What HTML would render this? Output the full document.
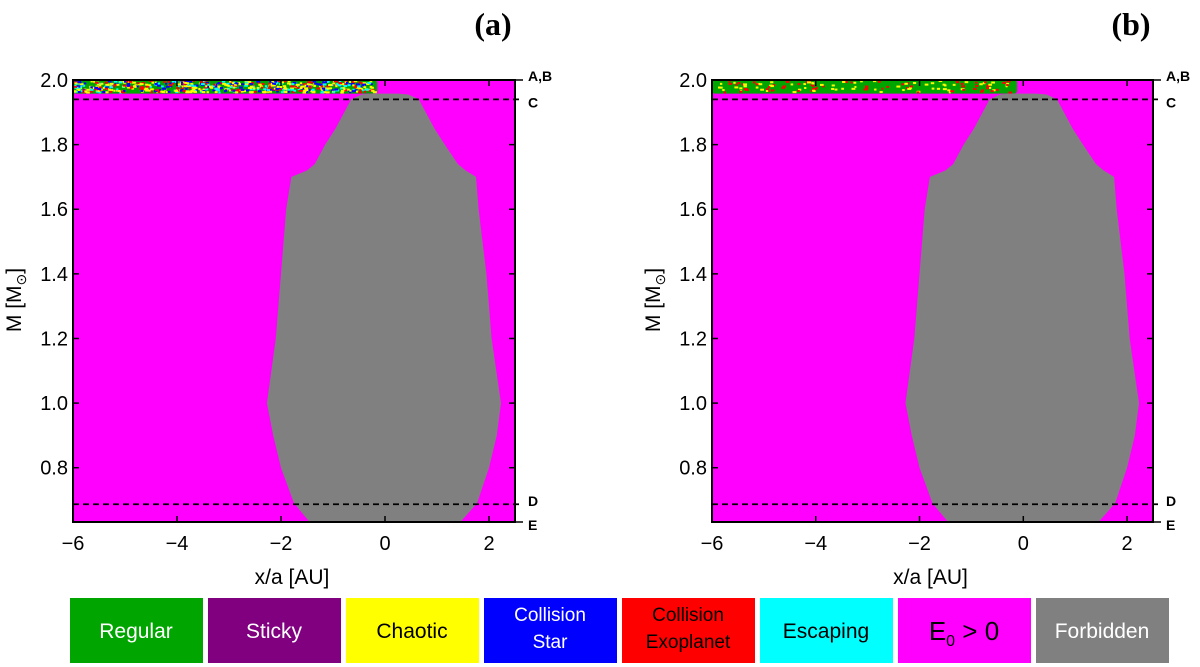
<!DOCTYPE html>
<html><head><meta charset="utf-8"><style>
body{margin:0;background:#fff;width:1200px;height:667px;overflow:hidden}
svg{display:block}
text{font-family:"Liberation Sans",sans-serif}
text.serif{font-family:"Liberation Serif",serif}
</style></head><body>
<svg id="fig" width="1200" height="667" xmlns="http://www.w3.org/2000/svg"></svg>
<script>
const xTicks=[-6,-4,-2,0,2];
const yTicks=[0.8,1.0,1.2,1.4,1.6,1.8,2.0];
const xDomain=[-6,2.5];
const yDomain=[0.632,2.0];
const refLines=[{m:1.94,label:"C",dash:true},{m:0.687,label:"D",dash:true}];
// Forbidden region boundary: M, left x, right x
const forbM=[1.958,1.955,1.94,1.85,1.8,1.74,1.72,1.70,1.6,1.4,1.2,1.0,0.9,0.8,0.69,0.632];
const forbL=[-0.25,-0.45,-0.65,-0.95,-1.15,-1.35,-1.5,-1.8,-1.9,-2.0,-2.1,-2.27,-2.15,-2.0,-1.75,-1.45];
const forbR=[0.25,0.45,0.65,0.95,1.15,1.4,1.55,1.75,1.8,1.95,2.05,2.23,2.15,2.0,1.77,1.45];
const bandM=[1.958,2.0];
const bandXEnd=[-0.15,-0.12];
const legendLabels=["Regular","Sticky","Chaotic","Collision Star","Collision Exoplanet","Escaping","E0 > 0","Forbidden"];
const legendColors=["#00a500","#800080","#ffff00","#0000ff","#ff0000","#00ffff","#ff00ff","#808080"];
const legendText=["#fff","#fff","#000","#fff","#000","#000","#000","#fff"];
const NS="http://www.w3.org/2000/svg";
const svg=document.getElementById('fig');
function el(t,a,p){const e=document.createElementNS(NS,t);for(const k in a)e.setAttribute(k,a[k]);(p||svg).appendChild(e);return e;}
const panels=[{x0:73,x1:515,name:"a",mix:["#00a500","#ffff00","#00ffff","#ff0000","#00a500","#ffff00","#0000ff"]},
{x0:712,x1:1153,name:"b",mix:["#00a500","#00a500","#00a500","#00a500","#ffff00","#00a500","#ff0000"]}];
const yTop=80,yBot=522;
panels.forEach((P,pi)=>{
 const g=el('g',{});
 
 
 const sx=v=>P.x0+(v-xDomain[0])/(xDomain[1]-xDomain[0])*(P.x1-P.x0);
 const sy=v=>yBot-(v-yDomain[0])/(yDomain[1]-yDomain[0])*(yBot-yTop);
 const bg=el('rect',{x:P.x0,y:yTop,width:P.x1-P.x0,height:yBot-yTop,fill:'#ff00ff'},g);
 
 
 const bx0=sx(-6),bx1=sx(bandXEnd[pi]),by0=sy(bandM[1]),by1=sy(bandM[0]);
 const band=el('rect',{x:bx0,y:by0,width:bx1-bx0,height:by1-by0,fill:'#00a500',rx:3},g);
 
 
 let s=12345+pi*777;
 const rnd=()=>{s=(s*1103515245+12345)%2147483648;return s/2147483648;};
 const n=pi==0?900:500;
 for(let i=0;i<n;i++){
  const px=bx0+rnd()*(bx1-bx0-3),py=by0+rnd()*(by1-by0-2);
  const c=P.mix[Math.floor(rnd()*P.mix.length)];
  if(c==='#00a500')continue;
  el('rect',{x:px,y:py,width:2+rnd()*2,height:2,fill:c},g);
 }
 let d='';
 forbM.forEach((m,i)=>{d+=(i?'L':'M')+sx(forbL[i])+','+sy(m);});
 for(let i=forbM.length-1;i>=0;i--)d+='L'+sx(forbR[i])+','+sy(forbM[i]);
 const fp=el('path',{d:d+'Z',fill:'#808080'},g);
 
 
 refLines.forEach(r=>{
  const l=el('line',{x1:P.x0,x2:P.x1+8,y1:sy(r.m),y2:sy(r.m),stroke:'#000','stroke-width':1.8,'stroke-dasharray':'6,4'},g);
  
  
 });
 el('rect',{x:P.x0,y:yTop,width:P.x1-P.x0,height:yBot-yTop,fill:'none',stroke:'#000','stroke-width':2},g);
 xTicks.forEach(v=>{
  const x=sx(v);
  el('line',{x1:x,x2:x,y1:yBot,y2:yBot-6,stroke:'#000','stroke-width':1.5},g);
  el('line',{x1:x,x2:x,y1:yTop,y2:yTop+6,stroke:'#000','stroke-width':1.5},g);
  const t=el('text',{x:x,y:yBot+28,'font-size':20,'text-anchor':'middle'},g);
  t.textContent=(v<0?'\u2212'+(-v):v);
  
  
 });
 yTicks.forEach(v=>{
  const y=sy(v);
  el('line',{x1:P.x0,x2:P.x0+6,y1:y,y2:y,stroke:'#000','stroke-width':1.5},g);
  el('line',{x1:P.x1,x2:P.x1-6,y1:y,y2:y,stroke:'#000','stroke-width':1.5},g);
  const t=el('text',{x:P.x0-5,y:y+7,'font-size':20,'text-anchor':'end'},g);
  t.textContent=v.toFixed(1);
  
  
 });
 const lbls=[["A,B",sy(2.0)+1],["C",sy(1.94)+8],["D",sy(0.687)+2],["E",yBot+8]];
 lbls.forEach(([s2,y])=>{const t=el('text',{x:P.x1+13,y:y,'font-size':14,'font-weight':'bold'},g);t.textContent=s2;
  });
 el('line',{x1:P.x1,x2:P.x1+8,y1:yTop,y2:yTop,stroke:'#000','stroke-width':1.5},g);
 el('line',{x1:P.x1,x2:P.x1+8,y1:yBot,y2:yBot,stroke:'#000','stroke-width':1.5},g);
 const xl=el('text',{x:(P.x0+P.x1)/2-2,y:584,'font-size':21,'text-anchor':'middle'},g);
 xl.textContent='x/a [AU]';
 
 const yl=el('text',{transform:`translate(${P.x0-52},${300}) rotate(-90)`,'font-size':21,'text-anchor':'middle'},g);
 yl.innerHTML='M [M<tspan font-size="14" dy="5">\u2299</tspan><tspan dy="-5">]</tspan>';
 
 const tt=el('text',{x:P.x1-22,y:35,'font-size':32,'font-weight':'bold','text-anchor':'middle','class':'serif'},g);
 tt.textContent='('+P.name+')';
 
});
legendLabels.forEach((lab,i)=>{
 const g=el('g',{});
 
 
 const x=70+i*138;
 el('rect',{x:x,y:598,width:133,height:65,fill:legendColors[i]},g);
 const parts=lab==='Collision Star'?['Collision','Star']:lab==='Collision Exoplanet'?['Collision','Exoplanet']:[lab];
 if(lab==='E0 > 0'){
  const t=el('text',{x:x+66,y:640,'font-size':26,'text-anchor':'middle',fill:legendText[i]},g);
  t.innerHTML='E<tspan font-size="16" dy="6">0</tspan><tspan dy="-6"> &gt; 0</tspan>';
 } else if(parts.length===1){
  const t=el('text',{x:x+66,y:638,'font-size':21,'text-anchor':'middle',fill:legendText[i]},g);t.textContent=lab;
 } else {
  parts.forEach((p,j)=>{const t=el('text',{x:x+66,y:621+j*27,'font-size':19,'text-anchor':'middle',fill:legendText[i]},g);t.textContent=p;});
 }
});
</script>
</body></html>
